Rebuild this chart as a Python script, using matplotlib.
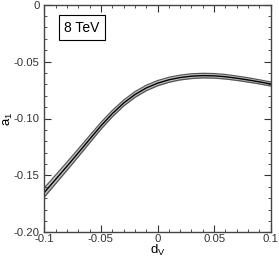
import numpy as np
import matplotlib.pyplot as plt
from matplotlib.ticker import MultipleLocator

plt.rcParams['font.family'] = ['Liberation Sans', 'DejaVu Sans']

# values
dv = [-0.1, -0.09, -0.08, -0.07, -0.06, -0.05, -0.04, -0.03, -0.02, -0.01, 0.0,
      0.01, 0.02, 0.03, 0.04, 0.05, 0.06, 0.07, 0.08, 0.09, 0.1]
a1 = [-0.165, -0.1535, -0.142, -0.1302, -0.1183, -0.1065, -0.0958, -0.0865, -0.0790, -0.0732, -0.0690,
      -0.0660, -0.0640, -0.0628, -0.0623, -0.0625, -0.0633, -0.0646, -0.0661, -0.0678, -0.0697]
err = [0.0040, 0.0038, 0.0036, 0.0034, 0.0032, 0.0030, 0.0028, 0.0026, 0.0025, 0.0024, 0.0023,
       0.0022, 0.0021, 0.0021, 0.0020, 0.0020, 0.0020, 0.0019, 0.0019, 0.0018, 0.0018]

x = np.array(dv)
y = np.array(a1)
e = np.array(err)

fig = plt.figure(figsize=(2.79, 2.62), dpi=100)
ax = fig.add_axes([44.3 / 279, 29.7 / 262, 226.4 / 279, 227.6 / 262])

ax.fill_between(x, y - e, y + e, color='#c0c0c0', lw=0)
ax.plot(x, y - e, color='#555555', lw=0.9)
ax.plot(x, y + e, color='#555555', lw=0.9)
ax.plot(x, y, color='black', lw=1.0)

ax.set_xlim(-0.1, 0.1)
ax.set_ylim(-0.2, 0)
ax.xaxis.set_minor_locator(MultipleLocator(0.01))
ax.yaxis.set_minor_locator(MultipleLocator(0.01))
ax.set_xticks([-0.1, -0.05, 0, 0.05, 0.1])
ax.set_xticklabels(['-0.1', '-0.05', '0', '0.05', '0.1'])
ax.set_yticks([-0.2, -0.15, -0.1, -0.05, 0])
ax.set_yticklabels(['-0.20', '-0.15', '-0.10', '-0.05', '0'])
ax.tick_params(which='both', direction='in', top=True, right=True, labelsize=8.5, colors='#333333')
ax.tick_params(axis='x', pad=1.5, labelsize=8.2)
ax.tick_params(axis='y', pad=3.5, labelsize=8.2)
ax.tick_params(which='major', length=5, width=0.8)
ax.tick_params(which='minor', length=2.5, width=0.6)
for s in ax.spines.values():
    s.set_color('#444444')
    s.set_linewidth(1.0)

ax.set_xlabel('d$_\\mathregular{V}$', fontsize=9.5, labelpad=-1)
ax.set_ylabel('a$_\\mathregular{1}$', fontsize=9.5, labelpad=-1)

ax.text(0.167, 0.898, '8 TeV', transform=ax.transAxes, fontsize=10,
        ha='center', va='center',
        bbox=dict(boxstyle='square,pad=0.4', fc='white', ec='black', lw=0.8))

fig.savefig('out.png', dpi=100)
